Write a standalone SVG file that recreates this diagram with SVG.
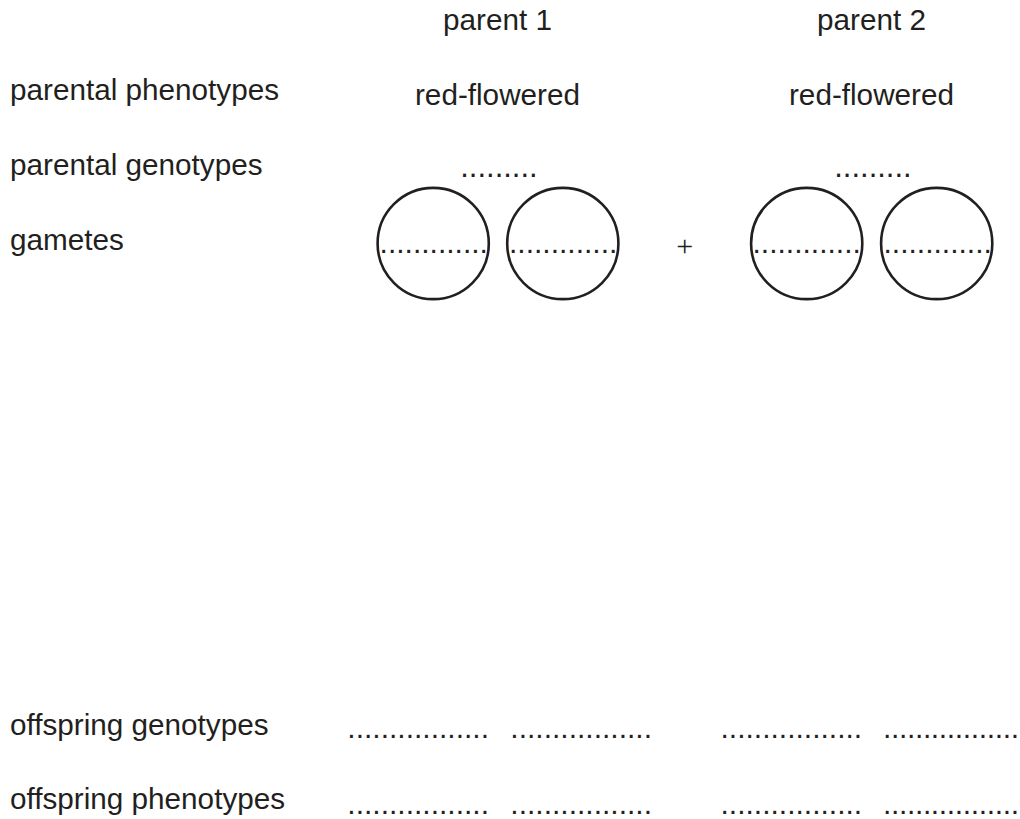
<svg xmlns="http://www.w3.org/2000/svg" width="1020" height="819" viewBox="0 0 1020 819">
<style>
  text { font-family: "Liberation Sans", Arial, sans-serif; fill: #231f20; }
  .lbl { font-size: 29.7px; }
  .mid { text-anchor: middle; }
  .dots { font-size: 30px; }
  .tdots { font-size: 31px; }
  .gam { fill: none; stroke: #231f20; stroke-width: 2.6; }
  .plus { font-family: "Liberation Serif", "Times New Roman", serif; font-size: 30px; text-anchor: middle; }
</style>
<rect width="1020" height="819" fill="#ffffff"/>

<g id="row-labels">
  <text class="lbl" x="10" y="100">parental phenotypes</text>
  <text class="lbl" x="10" y="175">parental genotypes</text>
  <text class="lbl" x="10" y="250">gametes</text>
  <text class="lbl" x="10" y="735">offspring genotypes</text>
  <text class="lbl" x="10" y="809">offspring phenotypes</text>
</g>

<g id="parent1">
  <text class="lbl mid" x="497.5" y="30">parent 1</text>
  <text class="lbl mid" x="497.5" y="105">red-flowered</text>
  <text class="tdots" x="460.2" y="177">.........</text>
</g>

<g id="parent2">
  <text class="lbl mid" x="871.5" y="30">parent 2</text>
  <text class="lbl mid" x="871.5" y="105">red-flowered</text>
  <text class="tdots" x="834.2" y="177">.........</text>
</g>

<g id="gamete1">
  <circle class="gam" cx="433.2" cy="243.5" r="55.6"/>
  <text class="dots" x="379.6" y="252.5">.............</text>
</g>
<g id="gamete2">
  <circle class="gam" cx="562.8" cy="243.5" r="55.6"/>
  <text class="dots" x="509" y="252.5">.............</text>
</g>
<g id="plus">
  <text class="plus" x="684.7" y="256">+</text>
</g>
<g id="gamete3">
  <circle class="gam" cx="806.7" cy="243.5" r="55.6"/>
  <text class="dots" x="752.5" y="252.5">.............</text>
</g>
<g id="gamete4">
  <circle class="gam" cx="936.7" cy="243.5" r="55.6"/>
  <text class="dots" x="883.5" y="252.5">.............</text>
</g>

<g id="offspring-genotypes">
  <text class="dots" x="347.3" y="738">.................</text>
  <text class="dots" x="510.3" y="738">.................</text>
  <text class="dots" x="720.5" y="738">.................</text>
  <text class="dots" x="883" y="738" textLength="136" lengthAdjust="spacing">.................</text>
</g>
<g id="offspring-phenotypes">
  <text class="dots" x="347.3" y="814">.................</text>
  <text class="dots" x="510.3" y="814">.................</text>
  <text class="dots" x="720.5" y="814">.................</text>
  <text class="dots" x="883" y="814" textLength="136" lengthAdjust="spacing">.................</text>
</g>
</svg>
